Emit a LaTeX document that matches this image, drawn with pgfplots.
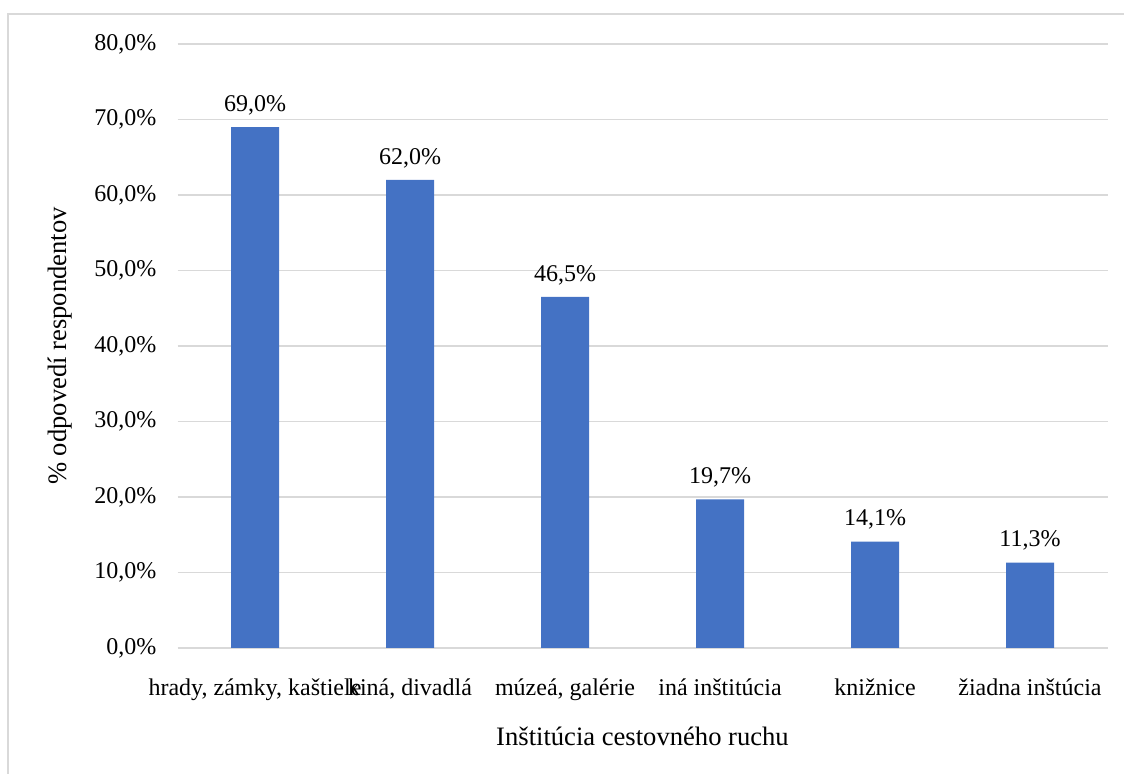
\documentclass[border=0pt]{standalone}
\usepackage{pgfplots}
\pgfplotsset{compat=1.18}
\usepackage{fontspec}
\setmainfont{Liberation Serif}
\definecolor{barblue}{HTML}{4472C4}
\definecolor{gridgray}{HTML}{D9D9D9}
\begin{document}
\begin{tikzpicture}[font=\fontsize{12}{14}\selectfont]
\useasboundingbox (0,0) rectangle (562pt,387pt);
% outer frame of the chart area
\draw[gridgray, line width=1pt] (4pt,0pt) -- (4pt,380pt) -- (563pt,380pt);
\begin{axis}[
  at={(88.75pt,63pt)}, anchor=south west,
  scale only axis, width=465pt, height=302pt,
  ybar, bar width=24pt,
  xmin=-0.5, xmax=5.5, ymin=0, ymax=80,
  xtick={0,1,2,3,4,5},
  xticklabels={{hrady, zámky, kaštiele},{kiná, divadlá},{múzeá, galérie},{iná inštitúcia},{knižnice},{žiadna inštúcia}},
  ytick={0,10,...,80},
  yticklabels={{0,0\%},{10,0\%},{20,0\%},{30,0\%},{40,0\%},{50,0\%},{60,0\%},{70,0\%},{80,0\%}},
  major tick length=0pt,
  axis line style={draw=none},
  ymajorgrids, grid style={gridgray, line width=0.6pt},
  tick label style={font=\fontsize{12}{14}\selectfont},
  yticklabel style={xshift=-7pt},
  xticklabel style={yshift=-12pt},
  xlabel={Inštitúcia cestovného ruchu},
  ylabel={\% odpovedí respondentov},
  label style={font=\fontsize{13.3}{15}\selectfont},
  xlabel style={at={(axis description cs:0.5,-0.147)}, anchor=center},
  ylabel style={at={(axis description cs:-0.1263,0.5)}, anchor=center},
  nodes near coords={\pgfmathprintnumber[fixed,fixed zerofill,precision=1,use comma,assume math mode=true]{\pgfplotspointmeta}\%},
  nodes near coords style={font=\fontsize{12}{14}\selectfont, text=black, yshift=2.5pt},
  clip=false,
]
\addplot[fill=barblue, draw=none] coordinates {
  (0,69.0) (1,62.0) (2,46.5) (3,19.7) (4,14.1) (5,11.3)
};
\end{axis}
\end{tikzpicture}
\end{document}
